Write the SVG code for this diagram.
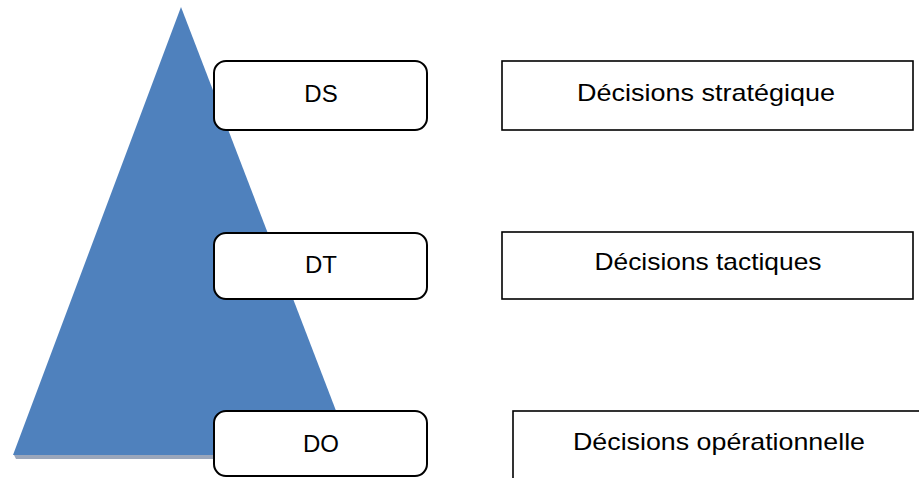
<svg xmlns="http://www.w3.org/2000/svg" width="919" height="478" viewBox="0 0 919 478">
<style>
.lvl{fill:#fff;stroke:#000;stroke-width:2}
.desc{fill:#fff;stroke:#000;stroke-width:1.6}
text{font-family:"Liberation Sans",Arial,sans-serif;font-size:24px;fill:#000;text-anchor:middle}
</style>
<rect width="919" height="478" fill="#fff"/>
<g id="pyramid">
<polygon points="16,459 356,459 354,455 14,455" fill="#9aa6bb"/>
<polygon points="181,7 13,455 353,455" fill="#4f81bd"/>
</g>
<g id="ds">
<rect class="lvl" x="214" y="61" width="213" height="69" rx="12"/>
<text x="321" y="102">DS</text>
</g>
<g id="dt">
<rect class="lvl" x="214" y="233" width="213" height="66" rx="12"/>
<text x="321" y="273">DT</text>
</g>
<g id="do">
<rect class="lvl" x="214" y="411" width="213" height="65" rx="12"/>
<text x="321" y="452">DO</text>
</g>
<g id="desc-ds">
<rect class="desc" x="502" y="61" width="411" height="69"/>
<text x="706" y="101" textLength="258" lengthAdjust="spacingAndGlyphs">Décisions stratégique</text>
</g>
<g id="desc-dt">
<rect class="desc" x="502" y="232" width="411" height="67"/>
<text x="708" y="270" textLength="227" lengthAdjust="spacingAndGlyphs">Décisions tactiques</text>
</g>
<g id="desc-do">
<rect class="desc" x="513" y="411" width="420" height="80"/>
<text x="719" y="450" textLength="292" lengthAdjust="spacingAndGlyphs">Décisions opérationnelle</text>
</g>
<g id="connectors"/>
</svg>
